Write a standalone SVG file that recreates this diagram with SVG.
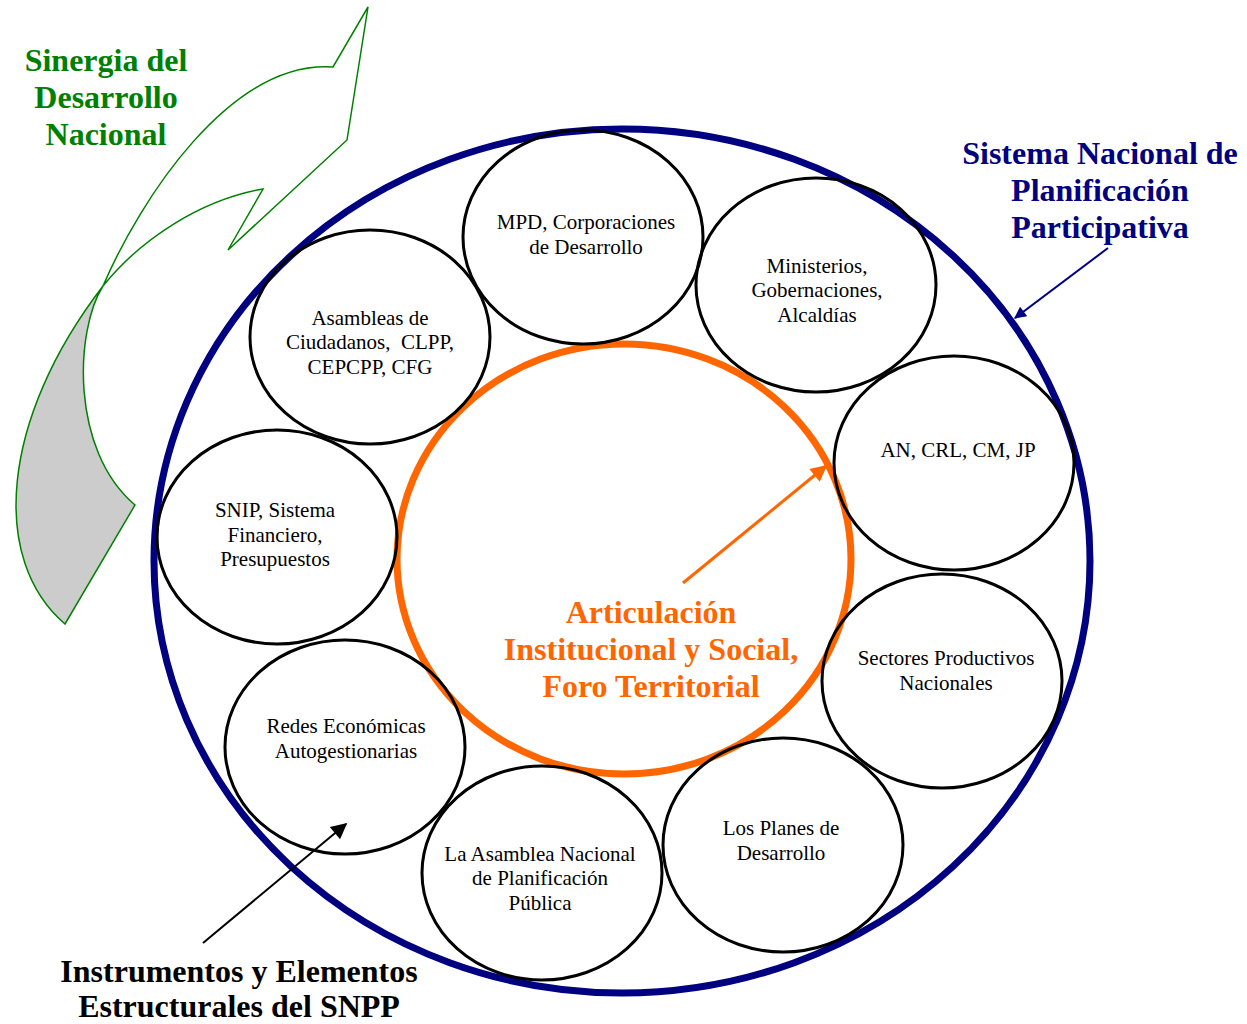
<svg xmlns="http://www.w3.org/2000/svg" width="1247" height="1024" viewBox="0 0 1247 1024">
<style>
.node{fill:none;stroke:#000;stroke-width:3}
.nt{font-family:"Liberation Serif","Times New Roman",serif;font-size:21px;fill:#000;text-anchor:middle}
.title{font-family:"Liberation Serif","Times New Roman",serif;font-size:32px;font-weight:bold;text-anchor:middle}
</style>
<defs>
<marker id="ahO" viewBox="0 0 10 10" refX="9" refY="5" markerWidth="7" markerHeight="5.5" orient="auto" markerUnits="strokeWidth"><path d="M0,0 L10,5 L0,10 Z" fill="#FF6600"/></marker>
<marker id="ahN" viewBox="0 0 10 10" refX="9" refY="5" markerWidth="8" markerHeight="6" orient="auto" markerUnits="strokeWidth"><path d="M0,0 L10,5 L0,10 Z" fill="#000080"/></marker>
<marker id="ahK" viewBox="0 0 10 10" refX="9" refY="5" markerWidth="10" markerHeight="8" orient="auto" markerUnits="strokeWidth"><path d="M0,0 L10,5 L0,10 Z" fill="#000"/></marker>
</defs>
<rect width="1247" height="1024" fill="#fff"/>

<g id="curved-arrow">
<path d="M103,286 C75,330 70,450 135,505 L65,624 C-10,560 0,420 103,286 Z" fill="#cccccc"/>
<path d="M65,624 C-10,560 0,420 103,286 C140,200 230,60 333,67 L368,7 L347,140 L228,250 L263,189 C200,200 140,240 103,286 C75,330 70,450 135,505 Z" fill="none" stroke="#008000" stroke-width="1.5" stroke-linejoin="miter"/>
</g>

<g id="snpp-circle"><ellipse cx="622" cy="561" rx="468" ry="432" fill="none" stroke="#000080" stroke-width="7"/></g>
<g id="foro-circle"><ellipse cx="624" cy="559" rx="227" ry="215" fill="none" stroke="#FF6600" stroke-width="7"/></g>

<g id="n-mpd"><ellipse class="node" cx="583" cy="237" rx="120" ry="107"/>
<text class="nt" x="586" y="229">MPD, Corporaciones</text><text class="nt" x="586" y="254">de Desarrollo</text></g>
<g id="n-ministerios"><ellipse class="node" cx="816" cy="285" rx="120" ry="107"/>
<text class="nt" x="817" y="273">Ministerios,</text><text class="nt" x="817" y="297">Gobernaciones,</text><text class="nt" x="817" y="322">Alcaldías</text></g>
<g id="n-an"><ellipse class="node" cx="954" cy="463" rx="120" ry="107"/>
<text class="nt" x="958" y="457">AN, CRL, CM, JP</text></g>
<g id="n-sectores"><ellipse class="node" cx="942" cy="681" rx="120" ry="107"/>
<text class="nt" x="946" y="665">Sectores Productivos</text><text class="nt" x="946" y="690">Nacionales</text></g>
<g id="n-planes"><ellipse class="node" cx="783" cy="845" rx="120" ry="107"/>
<text class="nt" x="781" y="835">Los Planes de</text><text class="nt" x="781" y="860">Desarrollo</text></g>
<g id="n-asamblea-nac"><ellipse class="node" cx="542" cy="873" rx="120" ry="107"/>
<text class="nt" x="540" y="861">La Asamblea Nacional</text><text class="nt" x="540" y="885">de Planificación</text><text class="nt" x="540" y="910">Pública</text></g>
<g id="n-redes"><ellipse class="node" cx="345" cy="747" rx="120" ry="107"/>
<text class="nt" x="346" y="733">Redes Económicas</text><text class="nt" x="346" y="758">Autogestionarias</text></g>
<g id="n-snip"><ellipse class="node" cx="277" cy="537" rx="120" ry="107"/>
<text class="nt" x="275" y="517">SNIP, Sistema</text><text class="nt" x="275" y="542">Financiero,</text><text class="nt" x="275" y="566">Presupuestos</text></g>
<g id="n-asambleas"><ellipse class="node" cx="370" cy="337" rx="120" ry="107"/>
<text class="nt" x="370" y="325">Asambleas de</text><text class="nt" x="370" y="349" xml:space="preserve">Ciudadanos,  CLPP,</text><text class="nt" x="370" y="374">CEPCPP, CFG</text></g>

<g id="connectors">
<line x1="683" y1="583" x2="826" y2="466" stroke="#FF6600" stroke-width="3" marker-end="url(#ahO)"/>
<line x1="1108" y1="248" x2="1015" y2="318" stroke="#000080" stroke-width="2" marker-end="url(#ahN)"/>
<line x1="203" y1="943" x2="346" y2="824" stroke="#000" stroke-width="2" marker-end="url(#ahK)"/>
</g>

<g id="labels">
<text class="title" fill="#008000"><tspan x="106" y="71">Sinergia del</tspan><tspan x="106" y="108">Desarrollo</tspan><tspan x="106" y="145">Nacional</tspan></text>
<text class="title" fill="#000080"><tspan x="1100" y="164">Sistema Nacional de</tspan><tspan x="1100" y="201">Planificación</tspan><tspan x="1100" y="238">Participativa</tspan></text>
<text class="title" fill="#FF6600"><tspan x="651" y="623">Articulación</tspan><tspan x="651" y="660">Institucional y Social,</tspan><tspan x="651" y="697">Foro Territorial</tspan></text>
<text class="title" fill="#000"><tspan x="239" y="982">Instrumentos y Elementos</tspan><tspan x="239" y="1017">Estructurales del SNPP</tspan></text>
</g>
</svg>
